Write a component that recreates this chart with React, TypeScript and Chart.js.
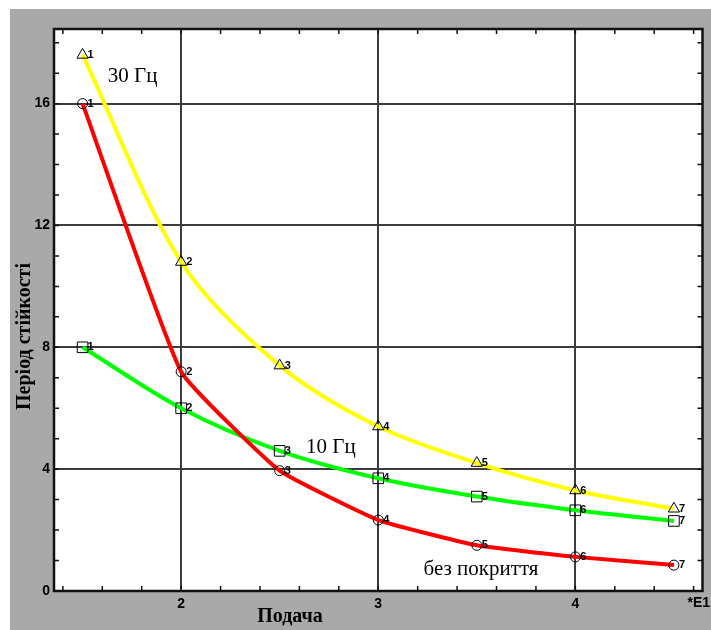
import React, { useEffect, useRef } from 'react';
import { Chart, registerables } from 'chart.js';

Chart.register(...registerables);

// ---- data ----
const feedValues = [1.5, 2, 2.5, 3, 3.5, 4, 4.5];
const pointNumbers = ['1', '2', '3', '4', '5', '6', '7'];
const series30Hz = [17.6, 10.8, 7.4, 5.4, 4.2, 3.3, 2.7];
const series10Hz = [8.0, 6.0, 4.6, 3.7, 3.1, 2.65, 2.3];
const seriesNoCoating = [16.0, 7.2, 3.95, 2.33, 1.5, 1.12, 0.85];
const xMajorTicks = [2, 3, 4];
const yMajorTicks = [0, 4, 8, 12, 16];
const xAxisTitle = 'Подача';
const yAxisTitle = 'Період стійкості';
const xScaleNote = '*E1';
const seriesNames = ['30 Гц', '10 Гц', 'без покриття'];

const SERIF = '"Liberation Serif", "Times New Roman", serif';
const SANS = '"Liberation Sans", Arial, sans-serif';

const decorPlugin = {
  id: 'decor',
  beforeDraw(chart: any) {
    const { ctx, chartArea: a } = chart;
    ctx.save();
    ctx.fillStyle = '#ffffff';
    ctx.fillRect(a.left, a.top, a.right - a.left, a.bottom - a.top);
    ctx.restore();
  },
  afterDatasetsDraw(chart: any) {
    const { ctx } = chart;
    ctx.save();
    ctx.fillStyle = '#000';
    ctx.font = `bold 11px ${SANS}`;
    ctx.textAlign = 'left';
    ctx.textBaseline = 'middle';
    chart.data.datasets.forEach((_: any, di: number) => {
      const meta = chart.getDatasetMeta(di);
      meta.data.forEach((pt: any, i: number) => {
        ctx.fillText(pointNumbers[i], pt.x + 5, pt.y);
      });
    });
    ctx.restore();
  },
  afterDraw(chart: any) {
    const { ctx, chartArea: a, scales } = chart;
    const x = scales.x;
    const y = scales.y;
    ctx.save();
    // minor ticks (inward, all four sides)
    ctx.strokeStyle = '#111';
    ctx.lineWidth = 1.5;
    ctx.beginPath();
    for (let i = 7; i <= 23; i++) {
      const px = x.getPixelForValue(i / 5);
      if (px <= a.left + 1 || px >= a.right - 1) continue;
      ctx.moveTo(px, a.bottom);
      ctx.lineTo(px, a.bottom - 5);
      ctx.moveTo(px, a.top);
      ctx.lineTo(px, a.top + 5);
    }
    for (let v = 1; v <= 18; v++) {
      const py = y.getPixelForValue(v);
      if (py <= a.top + 1) continue;
      ctx.moveTo(a.left, py);
      ctx.lineTo(a.left + 5, py);
      ctx.moveTo(a.right, py);
      ctx.lineTo(a.right - 5, py);
    }
    ctx.stroke();
    // frame
    ctx.lineWidth = 2.5;
    ctx.strokeStyle = '#111';
    ctx.strokeRect(a.left, a.top, a.right - a.left, a.bottom - a.top);

    // scale note
    ctx.fillStyle = '#000';
    ctx.font = `bold 14px ${SANS}`;
    ctx.textAlign = 'right';
    ctx.textBaseline = 'top';
    ctx.fillText(xScaleNote, chart.width - 1, a.bottom + 5);

    // axis titles
    ctx.font = `bold 20px ${SERIF}`;
    ctx.textAlign = 'center';
    ctx.textBaseline = 'alphabetic';
    ctx.fillText(xAxisTitle, 280, 612.5);

    ctx.save();
    ctx.translate(15, 327.5);
    ctx.rotate(-Math.PI / 2);
    ctx.textBaseline = 'middle';
    ctx.fillText(yAxisTitle, 0, 0);
    ctx.restore();

    // series annotations
    ctx.font = `21px ${SERIF}`;
    ctx.textAlign = 'left';
    ctx.textBaseline = 'middle';
    ctx.fillText(seriesNames[0], x.getPixelForValue(1.628), y.getPixelForValue(16.9));
    ctx.fillText(seriesNames[1], x.getPixelForValue(2.634), y.getPixelForValue(4.72));
    ctx.fillText(seriesNames[2], x.getPixelForValue(3.23), y.getPixelForValue(0.71));
    ctx.restore();
  },
};

export default function App() {
  const canvasRef = useRef<HTMLCanvasElement | null>(null);

  useEffect(() => {
    if (!canvasRef.current) return;
    const toPts = (vals: number[]) => feedValues.map((fx, i) => ({ x: fx, y: vals[i] }));
    const chart = new Chart(canvasRef.current, {
      type: 'line',
      data: {
        datasets: [
          {
            label: seriesNames[2],
            data: toPts(seriesNoCoating),
            borderColor: '#ff0000',
            borderWidth: 4,
            pointStyle: 'circle',
            pointRadius: 5,
            pointBorderColor: '#000',
            pointBorderWidth: 1,
            pointBackgroundColor: 'rgba(255,255,255,0)',
            tension: 0.12,
            order: 1,
          },
          {
            label: seriesNames[1],
            data: toPts(series10Hz),
            borderColor: '#00ff00',
            borderWidth: 4,
            pointStyle: 'rect',
            pointRadius: 7.5,
            pointBorderColor: '#000',
            pointBorderWidth: 1,
            pointBackgroundColor: 'rgba(255,255,255,0)',
            cubicInterpolationMode: 'monotone',
            order: 2,
          },
          {
            label: seriesNames[0],
            data: toPts(series30Hz),
            borderColor: '#ffff00',
            borderWidth: 4,
            pointStyle: 'triangle',
            pointRadius: 6.5,
            pointBorderColor: '#000',
            pointBorderWidth: 1,
            pointBackgroundColor: 'rgba(255,255,255,0)',
            tension: 0.3,
            order: 3,
          },
        ],
      },
      options: {
        responsive: false,
        animation: false,
        events: [],
        layout: { padding: { top: 20, right: 6, left: 0, bottom: 0 } },
        plugins: { legend: { display: false }, tooltip: { enabled: false }, title: { display: false } },
        scales: {
          x: {
            type: 'linear',
            min: 1.355,
            max: 4.645,
            afterBuildTicks: (s: any) => {
              s.ticks = xMajorTicks.map((v) => ({ value: v }));
            },
            afterFit: (s: any) => {
              s.height = 39;
            },
            grid: { color: '#3c3c3c', lineWidth: 2, drawTicks: false },
            border: { display: false },
            ticks: {
              padding: 5,
              color: '#000',
              font: { family: SANS, size: 14, weight: 'bold' },
              maxRotation: 0,
              autoSkip: false,
            },
          },
          y: {
            type: 'linear',
            min: 0,
            max: 18.45,
            afterBuildTicks: (s: any) => {
              s.ticks = yMajorTicks.map((v) => ({ value: v }));
            },
            afterFit: (s: any) => {
              s.width = 44;
            },
            grid: { color: '#3c3c3c', lineWidth: 2, drawTicks: false },
            border: { display: false },
            ticks: {
              padding: 4,
              color: '#000',
              font: { family: SANS, size: 14, weight: 'bold' },
              autoSkip: false,
            },
          },
        },
      },
      plugins: [decorPlugin],
    } as any);
    return () => chart.destroy();
  }, []);

  return (
    <div
      style={{
        position: 'fixed',
        left: 10,
        top: 9,
        width: 701,
        height: 621,
        background: '#a9a9a9',
      }}
    >
      <canvas ref={canvasRef} width={701} height={621} style={{ display: 'block' }} />
    </div>
  );
}
